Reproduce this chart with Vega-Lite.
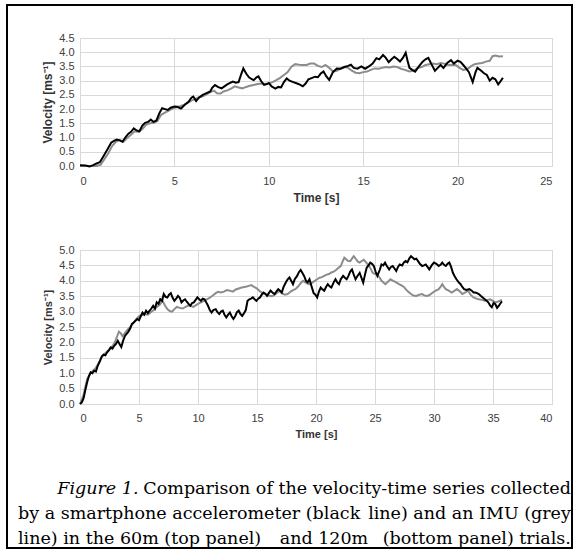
{
  "$schema": "https://vega.github.io/schema/vega-lite/v6.json",
  "padding": {"left": 6, "top": 4, "right": 0, "bottom": 0},
  "background": "white",
  "bounds": "flush",
  "spacing": 84,
  "config": {
    "view": {"stroke": "#d9d9d9"},
    "axis": {"gridColor": "#d9d9d9", "domain": false, "ticks": false, "labelOverlap": false, "labelFont": "Liberation Sans", "titleFont": "Liberation Sans", "labelColor": "#404040", "titleColor": "#333333", "labelFontSize": 11, "titleFontWeight": "bold"}
  },
  "datasets": {
    "top_phone": [
      {"t":0,"v":0.03},{"t":0.3,"v":0.02},{"t":0.5,"v":-0.02},{"t":0.7,"v":0.03},{"t":0.85,"v":0.08},{"t":1.05,"v":0.13},{"t":1.25,"v":0.35},{"t":1.45,"v":0.58},{"t":1.65,"v":0.82},{"t":1.8,"v":0.88},{"t":1.95,"v":0.93},{"t":2.1,"v":0.9},{"t":2.25,"v":0.85},{"t":2.4,"v":1.0},{"t":2.55,"v":1.13},{"t":2.7,"v":1.2},{"t":2.85,"v":1.32},{"t":3.0,"v":1.25},{"t":3.15,"v":1.22},{"t":3.3,"v":1.42},{"t":3.45,"v":1.52},{"t":3.6,"v":1.55},{"t":3.75,"v":1.63},{"t":3.9,"v":1.55},{"t":4.05,"v":1.6},{"t":4.2,"v":1.85},{"t":4.35,"v":2.03},{"t":4.5,"v":2.0},{"t":4.65,"v":1.97},{"t":4.8,"v":2.05},{"t":5.0,"v":2.09},{"t":5.15,"v":2.08},{"t":5.35,"v":2.02},{"t":5.55,"v":2.15},{"t":5.75,"v":2.26},{"t":5.9,"v":2.4},{"t":6.0,"v":2.44},{"t":6.15,"v":2.28},{"t":6.3,"v":2.4},{"t":6.5,"v":2.5},{"t":6.7,"v":2.56},{"t":6.9,"v":2.62},{"t":7.0,"v":2.75},{"t":7.15,"v":2.85},{"t":7.3,"v":2.78},{"t":7.5,"v":2.73},{"t":7.65,"v":2.8},{"t":7.8,"v":2.87},{"t":7.95,"v":2.92},{"t":8.1,"v":2.97},{"t":8.25,"v":2.93},{"t":8.4,"v":2.95},{"t":8.55,"v":3.25},{"t":8.65,"v":3.43},{"t":8.8,"v":3.25},{"t":8.95,"v":3.12},{"t":9.1,"v":3.05},{"t":9.2,"v":3.02},{"t":9.35,"v":3.12},{"t":9.45,"v":3.15},{"t":9.6,"v":2.98},{"t":9.75,"v":2.85},{"t":9.9,"v":2.88},{"t":10.0,"v":2.92},{"t":10.15,"v":2.8},{"t":10.35,"v":2.72},{"t":10.5,"v":2.78},{"t":10.65,"v":2.76},{"t":10.8,"v":2.95},{"t":10.95,"v":3.08},{"t":11.1,"v":3.0},{"t":11.3,"v":2.95},{"t":11.5,"v":2.9},{"t":11.65,"v":2.86},{"t":11.8,"v":2.8},{"t":11.95,"v":2.9},{"t":12.1,"v":3.05},{"t":12.3,"v":3.1},{"t":12.45,"v":3.14},{"t":12.6,"v":3.12},{"t":12.75,"v":3.25},{"t":12.9,"v":3.32},{"t":13.05,"v":3.15},{"t":13.2,"v":3.03},{"t":13.4,"v":3.3},{"t":13.6,"v":3.43},{"t":13.8,"v":3.42},{"t":14.0,"v":3.48},{"t":14.2,"v":3.52},{"t":14.35,"v":3.56},{"t":14.5,"v":3.45},{"t":14.7,"v":3.42},{"t":14.9,"v":3.5},{"t":15.1,"v":3.42},{"t":15.3,"v":3.5},{"t":15.5,"v":3.6},{"t":15.7,"v":3.79},{"t":15.85,"v":3.75},{"t":16.05,"v":3.9},{"t":16.2,"v":3.8},{"t":16.35,"v":3.65},{"t":16.5,"v":3.75},{"t":16.65,"v":3.84},{"t":16.8,"v":3.76},{"t":16.95,"v":3.67},{"t":17.1,"v":3.8},{"t":17.25,"v":3.98},{"t":17.35,"v":3.7},{"t":17.45,"v":3.45},{"t":17.6,"v":3.38},{"t":17.75,"v":3.32},{"t":17.95,"v":3.5},{"t":18.15,"v":3.67},{"t":18.3,"v":3.75},{"t":18.45,"v":3.8},{"t":18.6,"v":3.6},{"t":18.8,"v":3.35},{"t":18.95,"v":3.45},{"t":19.1,"v":3.55},{"t":19.25,"v":3.45},{"t":19.45,"v":3.62},{"t":19.65,"v":3.72},{"t":19.8,"v":3.6},{"t":20.0,"v":3.7},{"t":20.15,"v":3.66},{"t":20.3,"v":3.55},{"t":20.45,"v":3.43},{"t":20.6,"v":3.3},{"t":20.8,"v":2.95},{"t":20.95,"v":3.3},{"t":21.05,"v":3.45},{"t":21.25,"v":3.35},{"t":21.4,"v":3.26},{"t":21.55,"v":3.2},{"t":21.7,"v":3.0},{"t":21.85,"v":3.1},{"t":22.0,"v":3.05},{"t":22.15,"v":2.87},{"t":22.3,"v":3.0},{"t":22.4,"v":3.1}
    ],
    "top_imu": [
      {"t":0,"v":0},{"t":0.6,"v":0},{"t":0.9,"v":0.0},{"t":1.1,"v":0.05},{"t":1.3,"v":0.25},{"t":1.5,"v":0.45},{"t":1.7,"v":0.7},{"t":1.9,"v":0.85},{"t":2.1,"v":0.92},{"t":2.3,"v":0.85},{"t":2.5,"v":0.98},{"t":2.7,"v":1.1},{"t":2.9,"v":1.22},{"t":3.1,"v":1.2},{"t":3.3,"v":1.3},{"t":3.5,"v":1.45},{"t":3.7,"v":1.5},{"t":3.9,"v":1.52},{"t":4.1,"v":1.58},{"t":4.3,"v":1.8},{"t":4.5,"v":1.88},{"t":4.7,"v":1.95},{"t":4.9,"v":2.02},{"t":5.1,"v":2.06},{"t":5.3,"v":2.1},{"t":5.5,"v":2.15},{"t":5.7,"v":2.22},{"t":5.9,"v":2.3},{"t":6.1,"v":2.35},{"t":6.3,"v":2.42},{"t":6.5,"v":2.45},{"t":6.7,"v":2.52},{"t":6.9,"v":2.6},{"t":7.1,"v":2.65},{"t":7.25,"v":2.56},{"t":7.45,"v":2.55},{"t":7.6,"v":2.62},{"t":7.8,"v":2.66},{"t":8.0,"v":2.72},{"t":8.2,"v":2.8},{"t":8.4,"v":2.76},{"t":8.6,"v":2.73},{"t":8.8,"v":2.78},{"t":9.0,"v":2.82},{"t":9.2,"v":2.85},{"t":9.4,"v":2.88},{"t":9.6,"v":2.9},{"t":9.8,"v":2.88},{"t":10.0,"v":2.9},{"t":10.2,"v":2.95},{"t":10.4,"v":3.02},{"t":10.6,"v":3.1},{"t":10.8,"v":3.2},{"t":11.0,"v":3.3},{"t":11.2,"v":3.49},{"t":11.4,"v":3.58},{"t":11.6,"v":3.56},{"t":11.8,"v":3.55},{"t":12.0,"v":3.55},{"t":12.2,"v":3.6},{"t":12.4,"v":3.6},{"t":12.6,"v":3.52},{"t":12.8,"v":3.48},{"t":13.0,"v":3.55},{"t":13.2,"v":3.45},{"t":13.4,"v":3.32},{"t":13.6,"v":3.35},{"t":13.8,"v":3.42},{"t":14.0,"v":3.48},{"t":14.2,"v":3.45},{"t":14.4,"v":3.35},{"t":14.6,"v":3.28},{"t":14.8,"v":3.26},{"t":15.0,"v":3.3},{"t":15.2,"v":3.32},{"t":15.4,"v":3.38},{"t":15.6,"v":3.43},{"t":15.8,"v":3.42},{"t":16.0,"v":3.45},{"t":16.2,"v":3.48},{"t":16.4,"v":3.46},{"t":16.6,"v":3.5},{"t":16.8,"v":3.48},{"t":17.0,"v":3.42},{"t":17.2,"v":3.38},{"t":17.45,"v":3.32},{"t":17.7,"v":3.36},{"t":17.9,"v":3.45},{"t":18.1,"v":3.48},{"t":18.3,"v":3.55},{"t":18.5,"v":3.58},{"t":18.7,"v":3.6},{"t":18.9,"v":3.58},{"t":19.1,"v":3.62},{"t":19.3,"v":3.6},{"t":19.5,"v":3.55},{"t":19.7,"v":3.56},{"t":19.9,"v":3.55},{"t":20.1,"v":3.45},{"t":20.3,"v":3.38},{"t":20.5,"v":3.4},{"t":20.7,"v":3.5},{"t":20.9,"v":3.58},{"t":21.1,"v":3.6},{"t":21.3,"v":3.62},{"t":21.5,"v":3.67},{"t":21.7,"v":3.7},{"t":21.85,"v":3.86},{"t":22.0,"v":3.88},{"t":22.2,"v":3.85},{"t":22.4,"v":3.86}
    ],
    "bot_phone": [
      {"t":0,"v":0},{"t":0.15,"v":0.05},{"t":0.3,"v":0.18},{"t":0.45,"v":0.45},{"t":0.6,"v":0.7},{"t":0.75,"v":0.9},{"t":0.9,"v":1.03},{"t":1.05,"v":1.0},{"t":1.2,"v":1.08},{"t":1.35,"v":1.05},{"t":1.5,"v":1.24},{"t":1.7,"v":1.4},{"t":1.85,"v":1.55},{"t":2.0,"v":1.6},{"t":2.15,"v":1.58},{"t":2.3,"v":1.68},{"t":2.45,"v":1.75},{"t":2.6,"v":1.84},{"t":2.75,"v":1.8},{"t":2.9,"v":1.89},{"t":3.05,"v":1.95},{"t":3.2,"v":2.05},{"t":3.35,"v":1.95},{"t":3.5,"v":1.85},{"t":3.65,"v":2.05},{"t":3.8,"v":2.2},{"t":3.95,"v":2.28},{"t":4.1,"v":2.35},{"t":4.25,"v":2.45},{"t":4.4,"v":2.6},{"t":4.55,"v":2.65},{"t":4.7,"v":2.7},{"t":4.85,"v":2.76},{"t":5.0,"v":2.72},{"t":5.15,"v":2.85},{"t":5.3,"v":2.97},{"t":5.45,"v":2.9},{"t":5.6,"v":3.03},{"t":5.75,"v":2.95},{"t":5.9,"v":3.03},{"t":6.05,"v":3.1},{"t":6.2,"v":3.19},{"t":6.35,"v":3.1},{"t":6.5,"v":3.3},{"t":6.65,"v":3.25},{"t":6.8,"v":3.4},{"t":6.95,"v":3.35},{"t":7.1,"v":3.57},{"t":7.25,"v":3.48},{"t":7.4,"v":3.46},{"t":7.55,"v":3.55},{"t":7.7,"v":3.6},{"t":7.85,"v":3.45},{"t":8.0,"v":3.35},{"t":8.15,"v":3.42},{"t":8.3,"v":3.51},{"t":8.45,"v":3.45},{"t":8.6,"v":3.3},{"t":8.75,"v":3.36},{"t":8.9,"v":3.4},{"t":9.05,"v":3.32},{"t":9.2,"v":3.25},{"t":9.35,"v":3.19},{"t":9.5,"v":3.28},{"t":9.65,"v":3.3},{"t":9.8,"v":3.38},{"t":9.95,"v":3.46},{"t":10.1,"v":3.4},{"t":10.25,"v":3.35},{"t":10.4,"v":3.42},{"t":10.55,"v":3.4},{"t":10.7,"v":3.3},{"t":10.85,"v":3.19},{"t":11.0,"v":3.05},{"t":11.15,"v":2.97},{"t":11.3,"v":3.05},{"t":11.5,"v":3.08},{"t":11.65,"v":2.98},{"t":11.8,"v":2.92},{"t":11.95,"v":3.0},{"t":12.1,"v":3.03},{"t":12.25,"v":2.9},{"t":12.4,"v":2.81},{"t":12.55,"v":2.9},{"t":12.7,"v":2.97},{"t":12.85,"v":2.85},{"t":13.0,"v":2.76},{"t":13.15,"v":2.85},{"t":13.3,"v":2.98},{"t":13.45,"v":3.03},{"t":13.6,"v":2.92},{"t":13.75,"v":2.86},{"t":13.9,"v":2.95},{"t":14.05,"v":3.05},{"t":14.2,"v":3.35},{"t":14.35,"v":3.4},{"t":14.5,"v":3.42},{"t":14.65,"v":3.46},{"t":14.8,"v":3.4},{"t":14.95,"v":3.35},{"t":15.1,"v":3.42},{"t":15.25,"v":3.46},{"t":15.4,"v":3.55},{"t":15.55,"v":3.62},{"t":15.7,"v":3.58},{"t":15.85,"v":3.51},{"t":16.0,"v":3.6},{"t":16.15,"v":3.68},{"t":16.3,"v":3.62},{"t":16.5,"v":3.57},{"t":16.65,"v":3.66},{"t":16.8,"v":3.73},{"t":16.95,"v":3.68},{"t":17.1,"v":3.62},{"t":17.25,"v":3.8},{"t":17.45,"v":3.95},{"t":17.6,"v":4.05},{"t":17.75,"v":4.11},{"t":17.9,"v":4.0},{"t":18.05,"v":3.89},{"t":18.2,"v":4.05},{"t":18.4,"v":4.16},{"t":18.55,"v":4.28},{"t":18.7,"v":4.35},{"t":18.85,"v":4.25},{"t":19.0,"v":4.15},{"t":19.15,"v":4.0},{"t":19.3,"v":3.95},{"t":19.45,"v":4.05},{"t":19.6,"v":3.85},{"t":19.8,"v":3.6},{"t":19.95,"v":3.55},{"t":20.1,"v":3.46},{"t":20.25,"v":3.65},{"t":20.4,"v":3.78},{"t":20.55,"v":3.72},{"t":20.7,"v":3.68},{"t":20.85,"v":3.8},{"t":21.0,"v":3.89},{"t":21.15,"v":3.82},{"t":21.3,"v":3.78},{"t":21.5,"v":3.95},{"t":21.65,"v":4.05},{"t":21.8,"v":3.95},{"t":21.95,"v":3.89},{"t":22.1,"v":4.05},{"t":22.3,"v":4.16},{"t":22.45,"v":4.1},{"t":22.6,"v":4.05},{"t":22.75,"v":4.16},{"t":22.9,"v":4.3},{"t":23.05,"v":4.37},{"t":23.2,"v":4.2},{"t":23.35,"v":4.05},{"t":23.5,"v":4.15},{"t":23.7,"v":4.26},{"t":23.85,"v":4.1},{"t":24.0,"v":3.94},{"t":24.15,"v":4.2},{"t":24.3,"v":4.43},{"t":24.45,"v":4.5},{"t":24.6,"v":4.59},{"t":24.75,"v":4.55},{"t":24.9,"v":4.48},{"t":25.05,"v":4.3},{"t":25.2,"v":4.16},{"t":25.4,"v":4.35},{"t":25.55,"v":4.53},{"t":25.7,"v":4.5},{"t":25.85,"v":4.59},{"t":26.0,"v":4.48},{"t":26.2,"v":4.37},{"t":26.35,"v":4.45},{"t":26.5,"v":4.48},{"t":26.65,"v":4.4},{"t":26.8,"v":4.32},{"t":26.95,"v":4.45},{"t":27.1,"v":4.53},{"t":27.3,"v":4.5},{"t":27.45,"v":4.6},{"t":27.6,"v":4.64},{"t":27.75,"v":4.6},{"t":27.9,"v":4.72},{"t":28.05,"v":4.8},{"t":28.2,"v":4.75},{"t":28.35,"v":4.7},{"t":28.5,"v":4.72},{"t":28.65,"v":4.64},{"t":28.8,"v":4.55},{"t":29.0,"v":4.48},{"t":29.15,"v":4.5},{"t":29.3,"v":4.53},{"t":29.45,"v":4.45},{"t":29.6,"v":4.37},{"t":29.8,"v":4.5},{"t":30.0,"v":4.59},{"t":30.2,"v":4.55},{"t":30.4,"v":4.48},{"t":30.55,"v":4.52},{"t":30.7,"v":4.59},{"t":30.85,"v":4.52},{"t":31.0,"v":4.48},{"t":31.15,"v":4.55},{"t":31.3,"v":4.59},{"t":31.45,"v":4.45},{"t":31.6,"v":4.26},{"t":31.75,"v":4.15},{"t":31.9,"v":4.05},{"t":32.1,"v":3.95},{"t":32.25,"v":3.89},{"t":32.4,"v":3.8},{"t":32.55,"v":3.73},{"t":32.75,"v":3.7},{"t":33.0,"v":3.73},{"t":33.2,"v":3.68},{"t":33.35,"v":3.62},{"t":33.5,"v":3.62},{"t":33.65,"v":3.6},{"t":33.8,"v":3.57},{"t":34.0,"v":3.5},{"t":34.15,"v":3.45},{"t":34.3,"v":3.4},{"t":34.45,"v":3.35},{"t":34.6,"v":3.3},{"t":34.75,"v":3.2},{"t":34.9,"v":3.14},{"t":35.05,"v":3.28},{"t":35.2,"v":3.24},{"t":35.35,"v":3.12},{"t":35.5,"v":3.19},{"t":35.65,"v":3.28},{"t":35.76,"v":3.33}
    ],
    "bot_imu": [
      {"t":0,"v":0},{"t":0.3,"v":0.3},{"t":0.6,"v":0.8},{"t":0.9,"v":1.0},{"t":1.1,"v":1.08},{"t":1.3,"v":1.15},{"t":1.55,"v":1.3},{"t":1.8,"v":1.5},{"t":2.05,"v":1.62},{"t":2.3,"v":1.7},{"t":2.55,"v":1.78},{"t":2.8,"v":1.9},{"t":3.0,"v":2.05},{"t":3.15,"v":2.2},{"t":3.3,"v":2.35},{"t":3.45,"v":2.3},{"t":3.6,"v":2.2},{"t":3.8,"v":2.3},{"t":4.0,"v":2.4},{"t":4.25,"v":2.5},{"t":4.5,"v":2.62},{"t":4.75,"v":2.75},{"t":5.0,"v":2.85},{"t":5.25,"v":2.88},{"t":5.5,"v":2.92},{"t":5.75,"v":2.9},{"t":6.0,"v":2.98},{"t":6.25,"v":3.05},{"t":6.5,"v":3.15},{"t":6.75,"v":3.22},{"t":7.0,"v":3.35},{"t":7.2,"v":3.2},{"t":7.4,"v":3.08},{"t":7.6,"v":3.02},{"t":7.8,"v":3.0},{"t":8.0,"v":3.08},{"t":8.2,"v":3.15},{"t":8.45,"v":3.12},{"t":8.7,"v":3.1},{"t":8.95,"v":3.15},{"t":9.2,"v":3.2},{"t":9.4,"v":3.18},{"t":9.6,"v":3.15},{"t":9.8,"v":3.2},{"t":10.0,"v":3.25},{"t":10.25,"v":3.3},{"t":10.5,"v":3.35},{"t":10.75,"v":3.4},{"t":11.0,"v":3.45},{"t":11.25,"v":3.52},{"t":11.5,"v":3.6},{"t":11.7,"v":3.64},{"t":11.95,"v":3.62},{"t":12.2,"v":3.65},{"t":12.45,"v":3.7},{"t":12.7,"v":3.68},{"t":12.95,"v":3.65},{"t":13.2,"v":3.72},{"t":13.45,"v":3.75},{"t":13.7,"v":3.78},{"t":13.95,"v":3.8},{"t":14.2,"v":3.82},{"t":14.5,"v":3.86},{"t":14.75,"v":3.8},{"t":15.0,"v":3.75},{"t":15.2,"v":3.68},{"t":15.45,"v":3.6},{"t":15.7,"v":3.57},{"t":15.95,"v":3.52},{"t":16.2,"v":3.5},{"t":16.4,"v":3.52},{"t":16.65,"v":3.6},{"t":16.9,"v":3.66},{"t":17.1,"v":3.6},{"t":17.35,"v":3.55},{"t":17.6,"v":3.57},{"t":17.85,"v":3.65},{"t":18.05,"v":3.7},{"t":18.25,"v":3.73},{"t":18.5,"v":3.82},{"t":18.7,"v":3.92},{"t":18.9,"v":4.0},{"t":19.1,"v":3.95},{"t":19.3,"v":3.9},{"t":19.5,"v":3.89},{"t":19.7,"v":3.95},{"t":19.9,"v":4.0},{"t":20.1,"v":4.05},{"t":20.3,"v":4.1},{"t":20.5,"v":4.12},{"t":20.7,"v":4.16},{"t":20.9,"v":4.2},{"t":21.1,"v":4.22},{"t":21.3,"v":4.27},{"t":21.5,"v":4.3},{"t":21.7,"v":4.35},{"t":21.9,"v":4.42},{"t":22.1,"v":4.48},{"t":22.25,"v":4.62},{"t":22.4,"v":4.75},{"t":22.55,"v":4.7},{"t":22.7,"v":4.65},{"t":22.9,"v":4.64},{"t":23.05,"v":4.72},{"t":23.2,"v":4.8},{"t":23.4,"v":4.7},{"t":23.55,"v":4.62},{"t":23.7,"v":4.59},{"t":23.9,"v":4.65},{"t":24.05,"v":4.68},{"t":24.2,"v":4.62},{"t":24.35,"v":4.55},{"t":24.5,"v":4.48},{"t":24.65,"v":4.38},{"t":24.8,"v":4.26},{"t":25.0,"v":4.22},{"t":25.2,"v":4.2},{"t":25.4,"v":4.1},{"t":25.55,"v":4.0},{"t":25.7,"v":3.95},{"t":25.87,"v":3.89},{"t":26.05,"v":3.95},{"t":26.3,"v":4.05},{"t":26.55,"v":4.0},{"t":26.8,"v":3.95},{"t":27.0,"v":3.9},{"t":27.27,"v":3.84},{"t":27.45,"v":3.8},{"t":27.6,"v":3.73},{"t":27.8,"v":3.65},{"t":28.05,"v":3.57},{"t":28.25,"v":3.52},{"t":28.5,"v":3.51},{"t":28.75,"v":3.55},{"t":29.0,"v":3.57},{"t":29.2,"v":3.52},{"t":29.45,"v":3.51},{"t":29.7,"v":3.56},{"t":29.9,"v":3.62},{"t":30.15,"v":3.68},{"t":30.4,"v":3.73},{"t":30.55,"v":3.8},{"t":30.7,"v":3.89},{"t":30.85,"v":3.8},{"t":31.0,"v":3.73},{"t":31.25,"v":3.68},{"t":31.5,"v":3.62},{"t":31.75,"v":3.68},{"t":31.95,"v":3.73},{"t":32.2,"v":3.65},{"t":32.4,"v":3.57},{"t":32.65,"v":3.62},{"t":32.9,"v":3.68},{"t":33.1,"v":3.55},{"t":33.35,"v":3.46},{"t":33.6,"v":3.42},{"t":33.8,"v":3.4},{"t":34.05,"v":3.38},{"t":34.3,"v":3.35},{"t":34.55,"v":3.38},{"t":34.75,"v":3.4},{"t":35.0,"v":3.35},{"t":35.2,"v":3.3},{"t":35.45,"v":3.33},{"t":35.76,"v":3.38}
    ]
  },
  "vconcat": [
    {
      "width": 472,
      "height": 128,
      "encoding": {
        "x": {"field": "t", "type": "quantitative", "scale": {"domain": [0, 25], "nice": false},
          "axis": {"values": [0, 5, 10, 15, 20, 25], "format": "d", "title": "Time [s]", "titleFontSize": 12, "labelPadding": 9, "titlePadding": 6}},
        "y": {"field": "v", "type": "quantitative", "scale": {"domain": [0, 4.5], "nice": false},
          "axis": {"values": [0, 0.5, 1, 1.5, 2, 2.5, 3, 3.5, 4, 4.5], "format": ".1f", "title": "Velocity [ms⁻¹]", "titleFontSize": 12, "labelPadding": 6, "titlePadding": 4}}
      },
      "layer": [
        {"data": {"name": "top_imu"}, "mark": {"type": "line", "color": "#8c8c8c", "strokeWidth": 2}},
        {"data": {"name": "top_phone"}, "mark": {"type": "line", "color": "#000000", "strokeWidth": 2}}
      ]
    },
    {
      "width": 472,
      "height": 154,
      "encoding": {
        "x": {"field": "t", "type": "quantitative", "scale": {"domain": [0, 40], "nice": false},
          "axis": {"values": [0, 5, 10, 15, 20, 25, 30, 35, 40], "format": "d", "title": "Time [s]", "titleFontSize": 11, "labelPadding": 8, "titlePadding": 5}},
        "y": {"field": "v", "type": "quantitative", "scale": {"domain": [0, 5], "nice": false},
          "axis": {"values": [0, 0.5, 1, 1.5, 2, 2.5, 3, 3.5, 4, 4.5, 5], "format": ".1f", "title": "Velocity [ms⁻¹]", "titleFontSize": 11, "labelPadding": 6, "titlePadding": 5}}
      },
      "layer": [
        {"data": {"name": "bot_imu"}, "mark": {"type": "line", "color": "#8c8c8c", "strokeWidth": 2}},
        {"data": {"name": "bot_phone"}, "mark": {"type": "line", "color": "#000000", "strokeWidth": 2}}
      ]
    },
    {
      "width": 472,
      "height": 60,
      "view": {"stroke": null},
      "layer": [
        {
          "data": {"values": [{"x1": 0, "x2": 1, "y1": 0, "y2": 1}]},
          "mark": {"type": "rect", "filled": false, "color": "#000000", "strokeWidth": 2, "clip": false},
          "encoding": {
            "x": {"field": "x1", "type": "quantitative", "scale": {"domain": [0.1292, 0.9646], "nice": false, "zero": false}, "axis": null},
            "x2": {"field": "x2"},
            "y": {"field": "y1", "type": "quantitative", "scale": {"domain": [0, 0.1105], "nice": false, "zero": false}, "axis": null},
            "y2": {"field": "y2"}
          }
        },
        {
          "data": {"values": [{"x": 0.089, "y": 0.109, "text": "Figure 1."}]},
          "mark": {"type": "text", "align": "left", "baseline": "middle", "font": "DejaVu Serif", "fontStyle": "italic", "fontSize": 17.5, "color": "#000000", "clip": false},
          "encoding": {
            "x": {"field": "x", "type": "quantitative"},
            "y": {"field": "y", "type": "quantitative"},
            "text": {"field": "text"}
          }
        },
        {
          "data": {"values": [
            {"x": 0.0195, "y": 0.063, "text": "by a smartphone accelerometer (black"},
            {"x": 0.0195, "y": 0.017, "text": "line) in the 60m (top panel)"}
          ]},
          "mark": {"type": "text", "align": "left", "baseline": "middle", "font": "DejaVu Serif", "fontSize": 17.5, "color": "#000000", "clip": false},
          "encoding": {
            "x": {"field": "x", "type": "quantitative"},
            "y": {"field": "y", "type": "quantitative"},
            "text": {"field": "text"}
          }
        },
        {
          "data": {"values": [
            {"x": 0.561, "y": 0.017, "text": "and 120m"}
          ]},
          "mark": {"type": "text", "align": "center", "baseline": "middle", "font": "DejaVu Serif", "fontSize": 17.5, "color": "#000000", "clip": false},
          "encoding": {
            "x": {"field": "x", "type": "quantitative"},
            "y": {"field": "y", "type": "quantitative"},
            "text": {"field": "text"}
          }
        },
        {
          "data": {"values": [
            {"x": 0.998, "y": 0.109, "text": "Comparison of the velocity-time series collected"},
            {"x": 0.998, "y": 0.063, "text": "line) and an IMU (grey"},
            {"x": 0.998, "y": 0.017, "text": "(bottom panel) trials."}
          ]},
          "mark": {"type": "text", "align": "right", "baseline": "middle", "font": "DejaVu Serif", "fontSize": 17.5, "color": "#000000", "clip": false},
          "encoding": {
            "x": {"field": "x", "type": "quantitative"},
            "y": {"field": "y", "type": "quantitative"},
            "text": {"field": "text"}
          }
        }
      ]
    }
  ]
}
